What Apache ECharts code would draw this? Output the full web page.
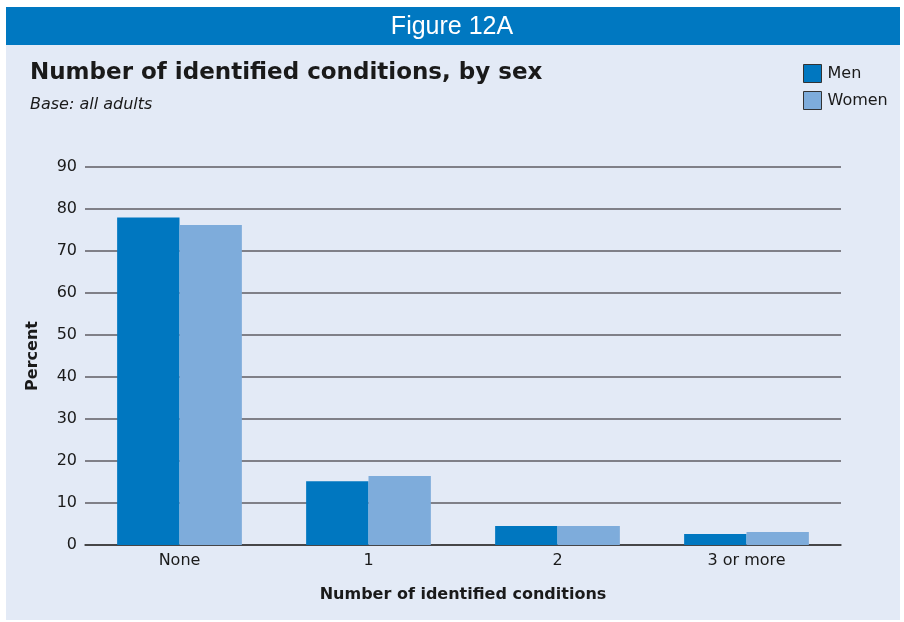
<!DOCTYPE html>
<html><head><meta charset="utf-8">
<script src="https://cdn.jsdelivr.net/npm/echarts@6/dist/echarts.min.js"></script>
<style>html,body{margin:0;padding:0;background:#fff}#c{width:904px;height:622px}</style>
</head><body><div id="c"></div>
<script>
const categories = ['None', '1', '2', '3 or more'];
const men = [78, 15.2, 4.5, 2.6];
const women = [76.2, 16.4, 4.5, 3.1];
const yTicks = [0, 10, 20, 30, 40, 50, 60, 70, 80, 90];

const chart = echarts.init(document.getElementById('c'), null, {renderer: 'canvas'});
const font = '"DejaVu Sans", "Liberation Sans", Arial, sans-serif';
const hfont = '"Liberation Sans", Arial, sans-serif';
chart.setOption({
  backgroundColor: '#ffffff',
  animation: false,
  graphic: [
    {type: 'rect', z: -10, shape: {x: 6, y: 7, width: 894, height: 613}, style: {fill: '#e3eaf6'}},
    {type: 'rect', z: -9, shape: {x: 6, y: 7, width: 894, height: 38}, style: {fill: '#0078c1'}},
    {type: 'text', left: 'center', top: 15, style: {text: 'Figure 12A', fill: '#ffffff', font: '25px ' + hfont}},
    {type: 'text', left: 30, top: 62, style: {text: 'Number of identified conditions, by sex', fill: '#1a1a1a', font: 'bold 23px ' + font}},
    {type: 'text', left: 30, top: 97, style: {text: 'Base: all adults', fill: '#1a1a1a', font: 'italic 16px ' + font}}
  ],
  legend: {
    orient: 'vertical', left: 803, top: 64, itemWidth: 18, itemHeight: 18, itemGap: 8, padding: 0,
    icon: 'rect',
    textStyle: {fontFamily: font, fontSize: 16, color: '#1a1a1a', padding: [0, 0, 0, 1]},
    data: [
      {name: 'Men', itemStyle: {borderColor: '#333', borderWidth: 1}},
      {name: 'Women', itemStyle: {borderColor: '#333', borderWidth: 1}}
    ]
  },
  grid: {left: 85, right: 63, top: 167, bottom: 77, containLabel: false},
  xAxis: {
    type: 'category', data: categories,
    name: 'Number of identified conditions', nameLocation: 'middle', nameGap: 42,
    nameTextStyle: {fontFamily: font, fontSize: 16, fontWeight: 'bold', color: '#1a1a1a'},
    axisLine: {lineStyle: {color: '#333', width: 1.5}},
    axisTick: {show: false},
    axisLabel: {fontFamily: font, fontSize: 16, color: '#1a1a1a', margin: 8}
  },
  yAxis: {
    type: 'value', min: 0, max: 90, interval: 10,
    name: 'Percent', nameLocation: 'middle', nameGap: 44, nameRotate: 90,
    nameTextStyle: {fontFamily: font, fontSize: 16, fontWeight: 'bold', color: '#1a1a1a'},
    axisLine: {show: false}, axisTick: {show: false},
    axisLabel: {fontFamily: font, fontSize: 16, color: '#1a1a1a', margin: 8,
      formatter: v => yTicks.includes(v) ? String(v) : ''},
    splitLine: {lineStyle: {color: '#808088', width: 2}}
  },
  series: [
    {name: 'Men', type: 'bar', data: men, barGap: '0%', barCategoryGap: '34%', itemStyle: {color: '#0077c0'}},
    {name: 'Women', type: 'bar', data: women, itemStyle: {color: '#7eacdb'}}
  ]
});
</script></body></html>
